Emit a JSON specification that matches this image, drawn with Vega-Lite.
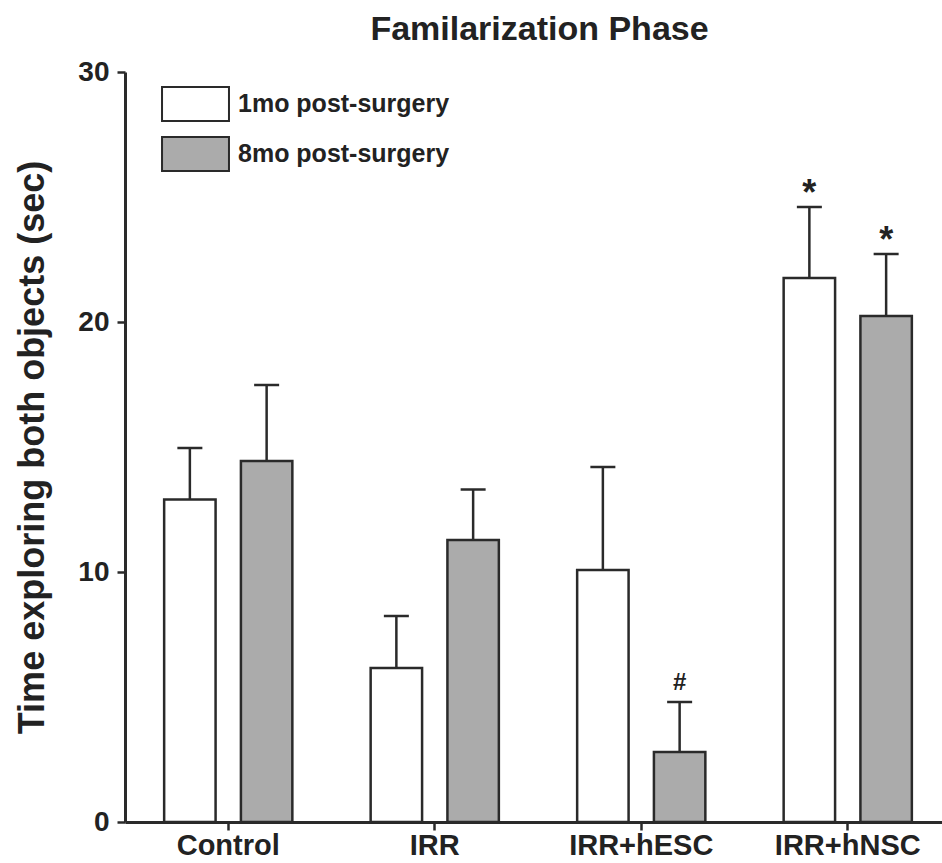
{
  "$schema": "https://vega.github.io/schema/vega-lite/v6.json",
  "width": 817,
  "height": 750,
  "autosize": {"type": "none"},
  "padding": {"left": 125, "top": 72, "right": 0, "bottom": 41},
  "background": "white",
  "config": {"view": {"stroke": null}, "font": "Liberation Sans"},
  "title": {"text": "Familarization Phase", "fontSize": 34, "fontWeight": "bold", "color": "#222", "offset": 11, "dx": 6, "font": "Liberation Sans"},
  "data": {"values": [
    {"group": "Control", "phase": "1mo post-surgery", "mean": 12.9, "upper": 14.96},
    {"group": "Control", "phase": "8mo post-surgery", "mean": 14.44, "upper": 17.48},
    {"group": "IRR", "phase": "1mo post-surgery", "mean": 6.16, "upper": 8.24},
    {"group": "IRR", "phase": "8mo post-surgery", "mean": 11.28, "upper": 13.3},
    {"group": "IRR+hESC", "phase": "1mo post-surgery", "mean": 10.08, "upper": 14.2},
    {"group": "IRR+hESC", "phase": "8mo post-surgery", "mean": 2.8, "upper": 4.8, "sig": "#"},
    {"group": "IRR+hNSC", "phase": "1mo post-surgery", "mean": 21.76, "upper": 24.6, "sig": "*"},
    {"group": "IRR+hNSC", "phase": "8mo post-surgery", "mean": 20.24, "upper": 22.72, "sig": "*"}
  ]},
  "encoding": {
    "x": {
      "field": "group", "type": "nominal", "sort": null,
      "scale": {"range": [0, 826], "paddingInner": 0, "paddingOuter": 0},
      "axis": {"title": null, "labelAngle": 0, "domainColor": "#2a2a2a", "domainWidth": 3, "tickColor": "#2a2a2a", "tickWidth": 2.5, "tickSize": 8, "labelFontSize": 29, "labelFontWeight": "bold", "labelColor": "#222", "labelPadding": 1, "labelFont": "Liberation Sans"}
    },
    "xOffset": {"field": "phase", "type": "nominal", "scale": {"paddingInner": 0.33, "paddingOuter": 0.51}}
  },
  "layer": [
    {
      "mark": {"type": "bar", "stroke": "#2a2a2a", "strokeWidth": 2.5},
      "encoding": {
        "y": {
          "field": "mean", "type": "quantitative",
          "scale": {"domain": [0, 30]},
          "axis": {"title": "Time exploring both objects (sec)", "values": [0, 10, 20, 30], "grid": false, "domainColor": "#2a2a2a", "domainWidth": 3, "tickColor": "#2a2a2a", "tickWidth": 2.5, "tickSize": 8, "labelFontSize": 28, "labelFontWeight": "bold", "labelColor": "#222", "labelPadding": 8, "labelFont": "Liberation Sans", "titleFontSize": 36, "titleFontWeight": "bold", "titleColor": "#222", "titlePadding": 26, "titleFont": "Liberation Sans"}
        },
        "fill": {
          "field": "phase", "type": "nominal",
          "scale": {"range": ["#ffffff", "#ababab"]},
          "legend": {"title": null, "orient": "none", "legendX": 42.5, "legendY": 4, "symbolType": "M-1.24,-0.63H1.24V0.63H-1.24Z", "symbolSize": 2916, "symbolStrokeColor": "#2a2a2a", "symbolStrokeWidth": 2, "symbolOpacity": 1, "labelFontSize": 25, "labelFontWeight": "bold", "labelColor": "#222", "labelOffset": 14.5, "labelLimit": 500, "rowPadding": 0, "padding": 0, "labelFont": "Liberation Sans"}
        }
      }
    },
    {
      "mark": {"type": "rule", "stroke": "#2a2a2a", "strokeWidth": 2.5},
      "encoding": {
        "y": {"field": "mean", "type": "quantitative", "title": "Time exploring both objects (sec)"},
        "y2": {"field": "upper"}
      }
    },
    {
      "mark": {"type": "tick", "size": 25, "thickness": 2.5, "color": "#2a2a2a", "opacity": 1},
      "encoding": {
        "y": {"field": "upper", "type": "quantitative", "title": "Time exploring both objects (sec)"}
      }
    },
    {
      "transform": [{"filter": "datum.sig === '*'"}],
      "mark": {"type": "text", "fontSize": 36, "fontWeight": "bold", "baseline": "alphabetic", "dy": -2, "color": "#222", "font": "Liberation Sans"},
      "encoding": {
        "y": {"field": "upper", "type": "quantitative", "title": "Time exploring both objects (sec)"},
        "text": {"field": "sig"}
      }
    },
    {
      "transform": [{"filter": "datum.sig === '#'"}],
      "mark": {"type": "text", "fontSize": 24, "fontWeight": "bold", "baseline": "alphabetic", "dy": -12, "color": "#222", "font": "Liberation Sans"},
      "encoding": {
        "y": {"field": "upper", "type": "quantitative", "title": "Time exploring both objects (sec)"},
        "text": {"field": "sig"}
      }
    }
  ]
}
